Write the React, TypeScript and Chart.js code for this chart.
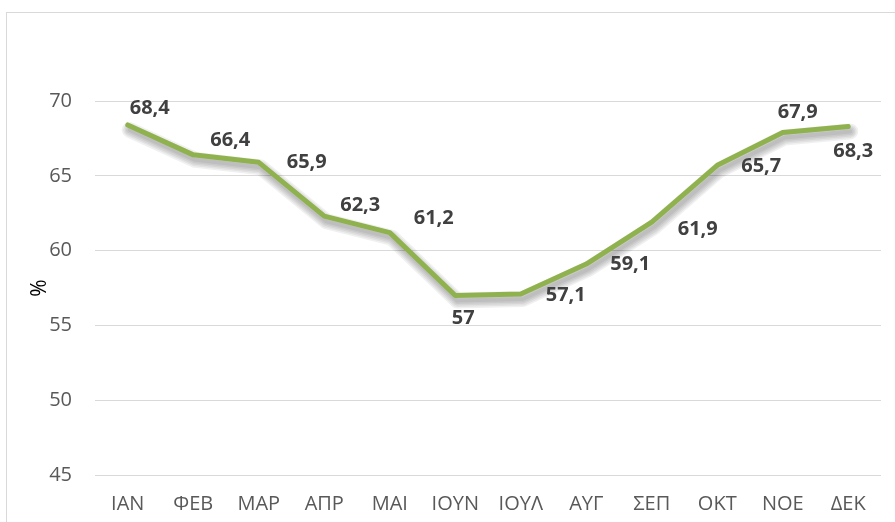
import React, { useEffect, useRef } from "react";
import { Chart, registerables } from "chart.js";

Chart.register(...registerables);

const months = ["ΙΑΝ", "ΦΕΒ", "ΜΑΡ", "ΑΠΡ", "ΜΑΙ", "ΙΟΥΝ", "ΙΟΥΛ", "ΑΥΓ", "ΣΕΠ", "ΟΚΤ", "ΝΟΕ", "ΔΕΚ"];
const values = [68.4, 66.4, 65.9, 62.3, 61.2, 57, 57.1, 59.1, 61.9, 65.7, 67.9, 68.3];
const yTicks = [45, 50, 55, 60, 65, 70];
const yTitle = "%";

// label placement offsets (style, not data)
const labelOffsets: [number, number][] = [
  [22, -17], [37, -15], [48, 0], [36, -11], [44, -14], [8, 23],
  [45, 1], [44, 0], [46, 7], [44, 1], [15, -20], [5, 25],
];

const shadowPlugin = {
  id: "lineShadow",
  beforeDatasetsDraw(chart: any) {
    const ctx = chart.ctx;
    const meta = chart.getDatasetMeta(0);
    const pts = meta.data;
    if (!pts || !pts.length) return;
    const layers = [16, 13, 10, 7, 4];
    ctx.save();
    ctx.lineJoin = "round";
    ctx.lineCap = "round";
    layers.forEach((w) => {
      ctx.strokeStyle = "rgba(0,0,0,0.06)";
      ctx.lineWidth = w;
      ctx.beginPath();
      pts.forEach((p: any, i: number) => {
        const x = p.x + 2;
        const y = p.y + 5;
        if (i === 0) ctx.moveTo(x, y);
        else ctx.lineTo(x, y);
      });
      ctx.stroke();
    });
    ctx.restore();
  },
};

const labelPlugin = {
  id: "valueLabels",
  afterDatasetsDraw(chart: any) {
    const ctx = chart.ctx;
    const meta = chart.getDatasetMeta(0);
    ctx.save();
    ctx.font = "bold 20px 'Open Sans'";
    ctx.fillStyle = "#404040";
    ctx.textAlign = "center";
    ctx.textBaseline = "middle";
    meta.data.forEach((pt: any, i: number) => {
      const [dx, dy] = labelOffsets[i] || [0, -15];
      const txt = String(values[i]).replace(".", ",");
      ctx.fillText(txt, pt.x + dx, pt.y + dy);
    });
    ctx.restore();
  },
};

export default function App() {
  const ref = useRef<HTMLCanvasElement>(null);
  useEffect(() => {
    if (!ref.current) return;
    const chart = new Chart(ref.current, {
      type: "line",
      data: {
        labels: months,
        datasets: [
          {
            data: values,
            borderColor: "#8FB24F",
            borderWidth: 5,
            pointRadius: 0,
            tension: 0,
            fill: false,
            borderJoinStyle: "round",
            borderCapStyle: "round",
          },
        ],
      },
      options: {
        animation: false,
        responsive: false,
        maintainAspectRatio: false,
        layout: { padding: { left: 0, right: 14, top: 101, bottom: 0 } },
        plugins: { legend: { display: false }, tooltip: { enabled: false } },
        scales: {
          x: {
            offset: true,
            grid: { display: false, drawTicks: false },
            border: { display: false },
            ticks: {
              color: "#595959",
              font: { family: "'Open Sans'", size: 20 },
              padding: 17,
              maxRotation: 0,
            },
            afterFit: (s: any) => {
              s.height = 47;
            },
          },
          y: {
            min: 45,
            max: 70,
            afterBuildTicks: (s: any) => {
              s.ticks = yTicks.map((v) => ({ value: v }));
            },
            grid: { color: "#d9d9d9", lineWidth: 1, drawTicks: false },
            border: { display: false },
            ticks: {
              color: "#595959",
              font: { family: "'Open Sans'", size: 20 },
              padding: 23,
            },
            title: {
              display: true,
              text: yTitle,
              color: "#000000",
              font: { family: "'Open Sans'", size: 21 },
              padding: { top: 27, bottom: 0 },
            },
            afterFit: (s: any) => {
              s.width = 95;
            },
          },
        },
      },
      plugins: [shadowPlugin, labelPlugin],
    } as any);
    return () => chart.destroy();
  }, []);
  return (
    <div style={{ position: "fixed", left: 0, top: 0, width: 895, height: 522, background: "#fff", overflow: "hidden" }}>
      <div
        style={{
          position: "absolute",
          left: 6,
          top: 12,
          width: 920,
          height: 540,
          border: "1px solid #d9d9d9",
          boxSizing: "border-box",
        }}
      />
      <canvas ref={ref} width={895} height={522} style={{ position: "absolute", left: 0, top: 0, width: 895, height: 522 }} />
    </div>
  );
}
